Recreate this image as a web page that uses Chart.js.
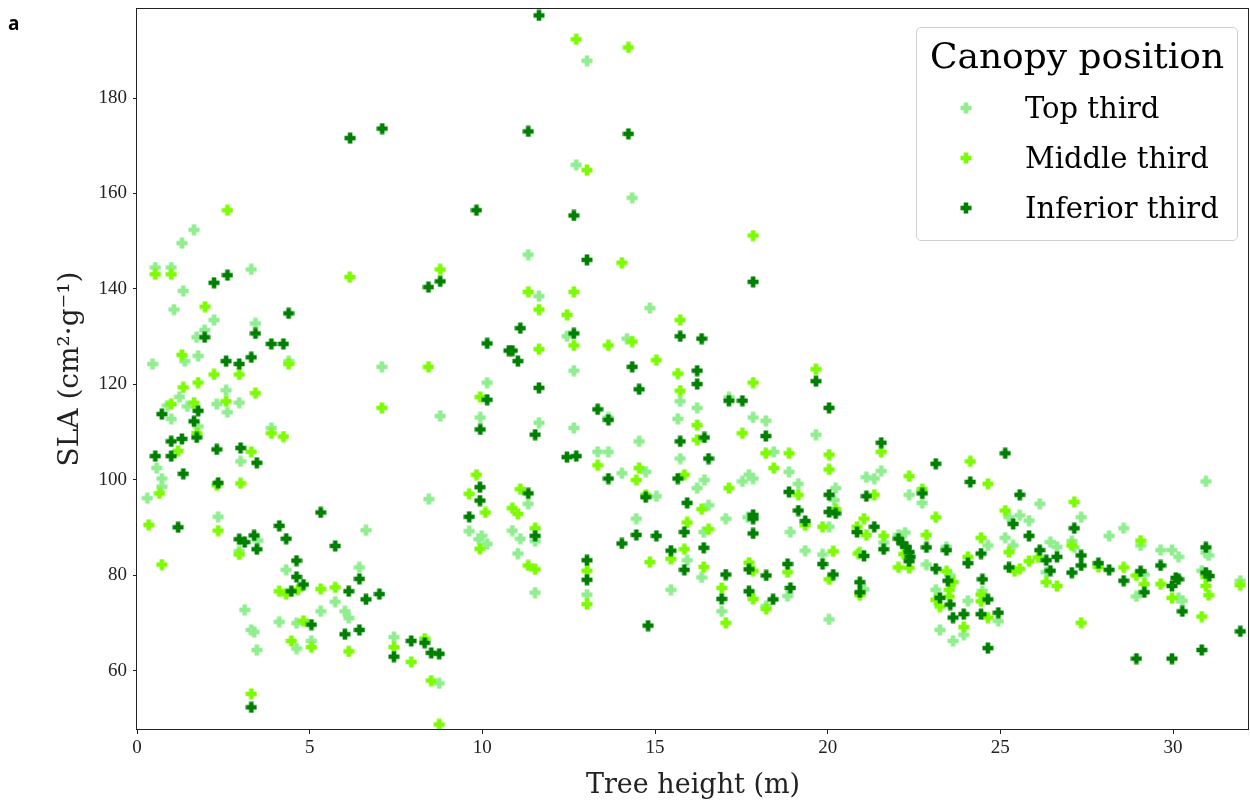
<!DOCTYPE html>
<html>
<head>
<meta charset="utf-8">
<script src="https://cdn.jsdelivr.net/npm/chart.js@4.4.1/dist/chart.umd.min.js"></script>
<style>
  body { margin: 0; background: #fff; }
  #wrap { position: relative; width: 1250px; height: 804px; }
  #panel { position: absolute; left: 8px; top: 10px; font: bold 19px "Open Sans", "DejaVu Sans", sans-serif; }
  #legend {
    position: absolute; left: 916px; top: 27px; width: 320px; height: 212px;
    border: 1px solid #d0d0d0; border-radius: 5px; background: rgba(255,255,255,0.85);
    font-family: "DejaVu Serif", "Liberation Serif", serif; color: #000;
  }
  #legend .title { position: absolute; left: 0; width: 100%; top: 8px; text-align: center; font-size: 36px; line-height: 40px; }
  #legend .row { position: absolute; left: 0; width: 100%; height: 34px; }
  #legend .row canvas { position: absolute; left: 43px; top: 11px; }
  #legend .row span { position: absolute; left: 108px; top: 0; font-size: 29px; line-height: 34px; }
</style>
</head>
<body>
<div id="wrap">
  <canvas id="chart" width="1250" height="804"></canvas>
  <div id="panel">a</div>
  <div id="legend">
    <div class="title">Canopy position</div>
    <div class="row" style="top:63px"><canvas width="12" height="12" data-c="0"></canvas><span>Top third</span></div>
    <div class="row" style="top:113px"><canvas width="12" height="12" data-c="1"></canvas><span>Middle third</span></div>
    <div class="row" style="top:163px"><canvas width="12" height="12" data-c="2"></canvas><span>Inferior third</span></div>
  </div>
</div>
<script>
// tree height (m) and SLA (cm2/g) per canopy position
const topX = [0.53,0.99,3.31,1.34,1.07,2.23,3.43,1.96,1.73,1.38,1.77,0.45,4.39,2.58,2.96,1.23,0.88,1.46,2.31,2.62,
  0.99,1.77,3.89,3.00,0.57,0.72,0.72,0.30,2.35,3.50,6.63,8.45,9.62,9.90,2.96,4.32,6.44,5.74,3.12,3.31,
  3.39,5.32,6.02,6.13,4.12,4.62,4.62,5.05,3.47,7.44,8.75,7.09,10.14,8.78,9.94,11.33,11.64,14.85,12.45,14.19,
  12.65,15.73,16.22,13.65,11.64,12.65,15.66,14.54,15.73,13.34,13.65,14.04,14.73,15.04,16.22,11.33,10.87,11.10,11.53,9.98,
  10.14,11.03,11.53,13.03,14.46,15.46,15.93,17.14,17.84,18.21,19.66,18.44,18.88,21.55,21.12,21.35,16.43,17.53,17.72,17.84,
  19.15,20.23,16.55,17.05,17.69,20.04,18.92,16.41,19.35,19.85,20.93,21.62,16.35,18.84,16.93,18.22,20.04,20.19,21.05,22.36,
  22.74,26.14,25.25,25.56,25.83,22.24,22.05,22.86,23.44,24.64,25.14,25.37,26.45,26.64,26.33,23.55,23.13,24.48,24.06,24.94,
  23.25,23.94,23.63,30.95,27.34,28.15,28.57,27.07,27.14,29.06,29.17,28.94,29.64,29.97,30.16,30.16,30.27,30.95,31.03,30.83,
  31.95,13.03,12.72,14.34,1.65,1.30];
const topY = [144.5,144.5,144.1,139.6,135.7,133.5,132.8,131.4,129.9,124.9,126.0,124.3,124.9,118.8,116.2,117.4,115.6,115.4,115.9,114.2,
  112.8,111.2,110.9,103.9,102.5,100.3,98.6,96.2,92.3,87.3,89.5,96.0,89.3,87.6,85.1,81.2,81.7,74.5,72.8,68.6,
  68.2,72.5,72.5,71.1,70.3,70.0,64.7,66.3,64.4,67.1,57.4,123.7,120.4,113.4,113.1,147.2,138.5,136.0,130.1,129.6,
  122.9,116.5,115.1,113.1,112.0,110.9,112.8,108.1,104.5,105.9,105.9,101.4,101.7,96.6,98.3,95.0,89.4,87.7,87.2,88.3,
  86.6,84.6,76.4,76.0,91.9,77.0,83.2,117.3,113.1,112.4,109.5,105.9,101.7,101.9,100.6,100.3,100.0,99.7,101.1,100.3,
  99.2,98.3,94.7,91.9,92.2,90.2,89.1,89.1,85.2,84.4,84.9,86.9,79.6,75.7,72.5,73.6,70.8,95.8,77.1,96.9,
  95.2,95.0,92.2,92.6,91.5,89.0,88.5,82.3,86.0,86.3,87.9,86.3,87.0,86.0,80.7,80.0,77.0,76.8,74.7,70.5,
  68.6,67.6,66.3,99.7,92.2,88.3,89.9,87.2,85.9,86.3,80.2,75.6,85.3,85.3,83.9,75.3,74.7,84.8,84.2,81.0,
  78.9,187.8,166.0,159.1,152.4,149.6];

const midX = [0.53,0.99,1.97,1.30,4.39,2.23,2.96,1.77,1.34,2.58,3.43,0.99,1.65,1.73,3.89,4.24,1.19,3.31,2.31,3.00,
  0.65,2.35,0.34,0.72,2.96,9.62,10.09,9.93,4.12,4.32,4.66,5.32,5.74,4.82,4.47,5.05,6.13,7.44,8.33,7.94,
  8.52,3.31,8.75,8.78,6.16,8.44,9.94,7.09,9.83,14.04,11.33,12.65,11.64,12.45,15.73,12.65,14.34,13.65,11.64,15.04,
  15.66,15.73,16.22,16.22,13.34,14.54,14.46,15.85,11.10,10.87,11.03,11.53,11.33,11.53,13.03,13.03,14.73,14.85,15.46,15.93,
  15.85,17.84,19.66,17.53,18.21,18.88,18.44,20.04,20.04,21.55,17.14,19.15,21.35,16.35,16.55,19.35,19.85,20.23,21.05,20.85,
  21.12,21.62,20.16,20.89,16.41,17.72,17.84,18.84,20.04,20.93,16.93,17.84,18.22,17.05,24.13,22.36,24.64,22.74,23.13,25.14,
  22.86,24.44,24.06,25.25,26.10,25.83,22.05,22.36,22.20,25.41,25.56,26.33,26.64,23.44,23.63,23.52,23.52,23.13,23.25,24.44,
  24.44,24.64,23.94,27.14,27.07,27.84,28.57,29.06,28.94,29.17,29.64,29.97,30.95,30.95,31.03,30.83,27.34,31.95,12.72,14.23,
  13.03,17.84,2.62];
const midY = [143.1,143.1,136.3,126.2,124.3,122.1,122.1,120.4,119.4,116.5,118.2,115.9,116.2,109.8,109.8,109.1,106.1,105.9,98.9,99.3,
  97.2,89.4,90.6,82.3,84.4,97.1,93.2,85.6,76.7,76.1,77.0,77.2,77.5,70.5,66.3,65.0,64.1,65.0,66.8,61.9,
  58.0,55.2,48.8,144.1,142.5,123.7,117.4,115.1,101.1,145.5,139.4,139.4,135.7,134.6,133.5,128.2,129.0,128.2,127.4,125.1,
  122.3,118.7,111.5,108.4,103.1,102.5,100.0,101.1,98.1,94.1,92.9,89.9,82.1,81.3,81.0,74.0,96.9,82.8,83.5,91.1,
  85.5,120.4,123.2,109.8,105.6,105.6,102.5,105.3,102.2,105.9,98.3,96.9,96.9,93.9,89.7,90.5,90.2,93.9,91.9,90.2,
  88.5,88.3,85.1,84.6,81.8,82.7,81.0,80.7,79.2,75.9,77.4,75.1,73.0,70.1,103.9,100.8,99.2,98.1,92.2,93.6,
  88.5,87.9,83.9,84.9,83.8,83.0,81.7,81.6,84.5,80.9,81.4,78.6,77.8,80.9,78.6,77.0,75.6,74.9,73.5,76.0,
  74.6,71.2,69.2,95.4,86.3,81.8,81.7,87.3,80.0,78.2,78.2,75.3,79.7,77.8,75.9,71.4,70.1,78.0,192.3,190.6,
  164.9,151.2,156.5];

const infX = [2.62,2.23,4.39,3.43,1.96,3.89,4.24,2.58,2.96,3.31,0.72,1.77,1.65,1.73,0.99,1.30,0.53,0.99,2.31,3.00,
  3.47,1.34,2.35,1.19,2.96,3.12,3.39,3.47,4.12,4.32,5.32,5.74,9.93,9.93,9.62,4.62,4.62,4.82,4.47,6.13,
  6.44,6.63,7.02,5.05,6.02,6.44,7.44,7.94,8.33,8.52,8.75,3.31,9.83,8.78,8.44,10.14,10.77,10.14,9.94,13.03,
  11.10,12.65,15.73,10.87,11.03,14.34,16.22,16.22,11.64,14.54,13.34,13.65,11.53,12.45,12.72,13.65,15.73,15.66,11.33,14.73,
  11.53,13.03,13.03,14.04,14.46,15.04,15.46,15.93,15.85,15.85,16.35,17.14,17.53,19.66,20.04,16.43,18.21,16.55,21.55,18.88,
  20.04,21.12,17.84,17.84,19.15,19.35,20.04,20.23,21.35,20.85,21.62,17.84,16.41,19.85,21.05,17.72,18.22,18.84,20.16,20.93,
  20.93,17.05,16.93,17.72,18.42,18.92,25.14,23.13,24.13,22.74,25.56,25.37,25.83,22.05,22.16,22.28,22.36,22.39,22.36,22.86,
  23.44,24.44,24.06,26.14,26.33,26.64,25.25,26.45,23.13,23.48,23.25,23.55,24.48,24.64,23.94,23.63,24.44,24.94,24.64,27.14,
  27.34,27.34,27.07,27.84,28.15,28.57,29.06,29.17,29.64,30.08,29.97,30.16,30.27,30.95,30.95,31.05,30.83,31.95,28.94,29.97,
  11.64,11.33,14.23,12.65,6.17,7.10,17.84,14.80];
const infY = [142.9,141.3,134.9,130.7,129.9,128.5,128.5,124.9,124.3,125.7,113.8,114.5,112.3,108.9,108.1,108.6,105.0,105.0,106.4,106.7,
  103.6,101.3,99.4,90.1,87.6,87.0,88.4,85.5,90.4,87.7,93.2,86.2,98.5,95.7,92.3,83.1,79.7,78.1,76.7,76.7,
  79.3,75.0,76.1,69.7,67.7,68.6,63.0,66.3,65.9,63.8,63.6,52.4,156.5,141.6,140.4,128.6,127.1,116.8,110.6,146.1,
  131.8,130.7,130.1,127.1,124.9,123.7,122.9,120.1,119.3,119.0,114.8,112.6,109.5,104.8,105.0,100.3,108.1,100.3,97.2,96.4,
  88.3,83.2,79.1,86.7,88.5,88.3,85.2,95.2,89.1,81.2,129.6,116.6,116.6,120.7,115.1,108.9,109.2,104.5,107.8,97.5,
  96.9,96.6,92.7,91.9,93.6,91.4,93.3,93.0,90.2,89.1,85.5,88.8,85.8,82.4,84.1,81.3,80.0,82.4,80.2,78.6,
  76.5,80.2,75.1,76.7,75.0,77.4,105.6,103.4,99.6,97.2,96.9,90.8,88.3,87.7,86.7,86.0,84.9,83.9,83.0,85.9,
  85.3,84.6,82.6,85.3,83.2,83.9,81.7,81.0,81.4,78.9,75.3,73.9,79.2,75.0,71.9,71.2,71.9,72.2,64.8,89.9,
  84.2,82.1,80.6,82.6,81.2,78.9,80.9,76.5,82.1,79.5,77.8,79.2,72.5,85.9,80.6,79.9,64.4,68.3,62.6,62.6,
  197.3,173.0,172.5,155.4,171.6,173.6,141.5,69.5];

const seriesNames = ['Top third', 'Middle third', 'Inferior third'];
const seriesColors = ['#90ee90', '#7cfc00', '#008000'];
const xTicks = [0, 5, 10, 15, 20, 25, 30];
const yTicks = [60, 80, 100, 120, 140, 160, 180];

// filled plus marker, like matplotlib 'P'
function makePlus(color, size) {
    const c = document.createElement('canvas');
    c.width = size; c.height = size;
    const ctx = c.getContext('2d');
    const h = size / 2, a = size / 2 - 0.5, t = size / 6 + 0.3;
    ctx.fillStyle = color;
    ctx.beginPath();
    ctx.moveTo(h - t, h - a); ctx.lineTo(h + t, h - a); ctx.lineTo(h + t, h - t);
    ctx.lineTo(h + a, h - t); ctx.lineTo(h + a, h + t); ctx.lineTo(h + t, h + t);
    ctx.lineTo(h + t, h + a); ctx.lineTo(h - t, h + a); ctx.lineTo(h - t, h + t);
    ctx.lineTo(h - a, h + t); ctx.lineTo(h - a, h - t); ctx.lineTo(h - t, h - t);
    ctx.closePath();
    ctx.fill();
    return c;
}

document.querySelectorAll('#legend canvas').forEach(cv => {
    cv.getContext('2d').drawImage(makePlus(seriesColors[+cv.dataset.c], 12), 0, 0);
});

const toPoints = (xs, ys) => xs.map((x, i) => ({x: x, y: ys[i]}));
const seriesData = [toPoints(topX, topY), toPoints(midX, midY), toPoints(infX, infY)];

const frame = {
    id: 'frame',
    afterDraw(chart) {
        const {ctx, chartArea: a} = chart;
        ctx.save();
        ctx.strokeStyle = '#222';
        ctx.lineWidth = 1;
        ctx.strokeRect(Math.round(a.left) - 0.5, Math.round(a.top) + 0.5, Math.round(a.right - a.left), Math.round(a.bottom - a.top) - 1);
        ctx.restore();
    }
};

const serif = '"Liberation Serif", "DejaVu Serif", serif';
const titleFont = '"DejaVu Serif", "Liberation Serif", serif';

new Chart(document.getElementById('chart'), {
    type: 'scatter',
    data: {
        datasets: seriesData.map((pts, i) => ({
            label: seriesNames[i],
            data: pts,
            pointStyle: makePlus(seriesColors[i], 12),
            pointRadius: 6,
            backgroundColor: seriesColors[i],
            borderColor: seriesColors[i],
            order: 3 - i,
        })),
    },
    options: {
        responsive: false,
        animation: false,
        layout: { autoPadding: false, padding: { top: 8, right: 1, left: 0, bottom: 0 } },
        plugins: { legend: { display: false }, tooltip: { enabled: false } },
        scales: {
            x: {
                type: 'linear',
                min: 0,
                max: 32.2,
                afterBuildTicks: s => { s.ticks = xTicks.map(v => ({value: v})); },
                afterFit: s => { s.height = 74; s.paddingLeft = 0; s.paddingRight = 0; },
                border: { display: false },
                grid: { drawOnChartArea: false, drawTicks: true, tickLength: 4, color: '#222' },
                ticks: { color: '#222', font: { family: serif, size: 19 }, padding: 3, maxRotation: 0 },
                title: { display: true, text: 'Tree height (m)', color: '#222', font: { family: titleFont, size: 27 }, padding: { top: 0, bottom: 2 } },
            },
            y: {
                type: 'linear',
                min: 47.64,
                max: 198.85,
                afterBuildTicks: s => { s.ticks = yTicks.map(v => ({value: v})); },
                afterFit: s => { s.width = 137; s.paddingTop = 0; s.paddingBottom = 0; },
                border: { display: false },
                grid: { drawOnChartArea: false, drawTicks: true, tickLength: 4, color: '#222' },
                ticks: { color: '#222', font: { family: serif, size: 19 }, padding: 6 },
                title: { display: true, text: 'SLA (cm²·g⁻¹)', color: '#222', font: { family: titleFont, size: 28 }, padding: { top: 54, bottom: 0 } },
            },
        },
    },
    plugins: [frame],
});
</script>
</body>
</html>
